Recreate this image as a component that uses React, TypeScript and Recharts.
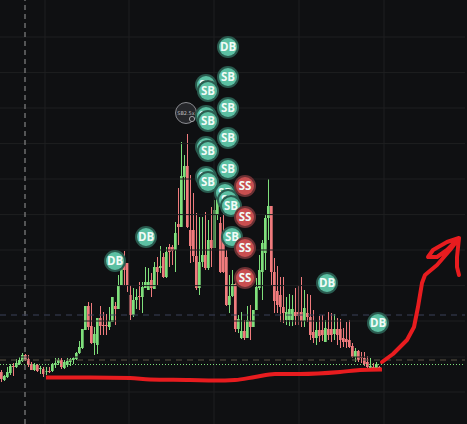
import React from "react";
import { ComposedChart, Bar, Cell, Line, Scatter, XAxis, YAxis, ReferenceLine } from "recharts";

const WIDTH = 467;
const HEIGHT = 424;
const SLOTS = 155;
const PLOT_WIDTH = 465;

const opens = [52,44,47,51,58,57,60,63,69,65,60,54,59,55,55,52,53,53,59,61,64,56,59,62,64,65,71,76,94,118,98,81,79,106,99,99,97,102,118,115,139,161,161,129,109,124,128,127,136,134,144,135,157,156,167,147,177,177,174,200,197,247,258,194,194,168,136,162,169,156,184,176,209,201,184,167,119,128,140,95,86,93,86,103,97,114,136,152,171,206,218,152,133,129,117,104,104,104,112,112,112,103,111,107,92,86,94,94,82,95,95,90,95,95,86,85,84,78,67,73,67,66,62,56,57,56,57];
const closes = [45,48,52,58,57,61,64,69,64,59,54,59,53,56,50,53,52,60,61,64,57,62,63,65,66,71,77,95,118,97,81,90,106,98,98,98,103,127,115,139,164,154,138,109,124,127,127,137,142,142,136,157,152,158,147,172,172,173,191,197,248,258,197,178,168,136,162,169,156,184,176,214,229,152,152,119,128,140,95,105,93,86,104,97,114,137,154,181,206,218,152,123,119,117,111,112,115,115,108,108,103,116,107,89,86,94,88,89,96,89,89,95,89,84,82,82,77,67,73,64,66,60,57,58,56,60,56];
const highs = [54,49,57,60,61,65,67,71,70,69,62,61,60,58,57,57,57,61,66,66,66,64,66,66,67,72,83,95,118,122,121,97,106,118,112,110,117,127,122,149,169,173,161,139,136,135,142,142,157,156,151,162,167,178,171,177,180,179,202,236,282,269,290,249,231,211,207,207,212,204,217,224,246,207,214,174,149,154,142,109,112,104,118,119,114,146,169,184,209,245,218,166,158,147,147,127,130,129,136,139,147,134,130,129,114,102,108,109,104,112,111,110,106,105,96,102,104,81,76,74,72,72,68,66,61,62,58];
const lows = [42,43,46,49,48,56,59,62,63,57,54,53,52,50,47,49,51,52,56,59,55,55,57,58,60,64,70,75,94,94,80,69,70,89,89,89,94,102,99,115,139,139,132,104,107,115,114,111,136,134,127,135,139,151,146,146,157,159,152,179,197,224,196,161,162,134,129,157,154,154,157,176,204,151,151,118,111,127,92,91,85,84,86,84,97,114,134,124,154,184,139,111,111,102,101,99,98,98,99,99,97,97,102,84,81,79,82,83,82,84,82,84,79,76,77,76,76,66,62,62,61,58,56,56,55,55,55];

const gridXs = [45, 129, 214, 299, 384];
const gridYs = [387, 351.4, 316, 280.4, 245, 209.4, 174, 138.4, 103, 67, 32];
const crosshairX = 25;
const bluePrice = 109;
const tanPrice = 64;
const greenPrice = 59.5;

const supportX = [46, 90, 130, 150, 190, 215, 235, 255, 275, 300, 340, 360, 382];
const supportP = [46.5, 46.5, 46, 44.5, 44, 43.5, 44, 47, 50, 50, 52, 54, 54.5];
const arrowX = [382, 393, 407, 414, 418, 422, 425, 437, 450, 459, 447, 433, 428, 437, 447, 459, 457, 457, 459];
const arrowP = [62, 70, 84, 97, 117, 141, 149, 159, 174, 186, 182, 174, 167, 167, 174, 186, 167, 157, 149];

const badgeLabels = ["DB","SB","SB","SB","SB","SB","SB","SB","SB","SB","SB","SB","SB","SB","SB","SB","SB","SS","SS","SS","SS","DB","DB","DB","DB"];
const badgeX = [228,228,206,208,228,206,208,228,206,208,228,206,208,225,228,231,232,245,245,245,245,146,115,327,378];
const badgeP = [377,347,339,333,316,308,303,286,277,273,255,247,242,231,224,218,187,238,207,176,146,187,163,141,101];

const rows = Array.from({ length: SLOTS }, (_, i) => ({
  slot: i,
  wick: i < opens.length ? [lows[i], highs[i]] : null,
  body: i < opens.length ? [Math.min(opens[i], closes[i]), Math.max(opens[i], closes[i]) + (opens[i] === closes[i] ? 1 : 0)] : null,
}));
const supportData = supportX.map((x, i) => ({ x, p: supportP[i] }));
const arrowData = arrowX.map((x, i) => ({ x, p: arrowP[i] }));
const badgeData = badgeLabels.map((label, i) => ({ label, x: badgeX[i], p: badgeP[i] }));
const logoData = [{ x: 186, p: 311 }];

const GREEN = "#7fe07c";
const RED = "#f07b7d";
const colourOf = (i: number) => (closes[i] >= opens[i] ? GREEN : RED);

function Badge(props: any) {
  const { cx, cy, payload } = props;
  const sell = payload.label === "SS";
  return (
    <g>
      <circle cx={cx} cy={cy} r={11} fill={sell ? "#6b3134" : "#2a5b4f"} />
      <circle cx={cx} cy={cy} r={9} fill={sell ? "#c94f50" : "#5cc0a3"} />
      <text x={cx} y={cy + 4} textAnchor="middle" fontSize={11.5} fontWeight={700} fontFamily="'Open Sans', sans-serif" fill="#f1fbf7">
        {payload.label}
      </text>
    </g>
  );
}

function Logo(props: any) {
  const { cx, cy } = props;
  return (
    <g>
      <circle cx={cx} cy={cy} r={10.5} fill="#26272b" stroke="#8a8b90" strokeWidth={1} />
      <text x={cx} y={cy + 1.5} textAnchor="middle" fontSize={5} fontFamily="'DejaVu Sans', sans-serif" fill="#b8b8bc">SB2.5x</text>
      <circle cx={cx + 6} cy={cy + 6} r={2.6} fill="#2a2b2f" stroke="#bdbdc0" strokeWidth={0.8} />
    </g>
  );
}

export default function App() {
  return (
    <div style={{ position: "absolute", left: 0, top: 0, width: WIDTH, height: HEIGHT, background: "#0f1012", overflow: "hidden" }}>
      <ComposedChart width={WIDTH} height={HEIGHT} data={rows} margin={{ top: 0, right: WIDTH - PLOT_WIDTH, bottom: 0, left: 0 }}>
        <XAxis xAxisId="wick" dataKey="slot" type="category" hide padding={{ left: 0, right: 0 }} />
        <XAxis xAxisId="body" dataKey="slot" type="category" hide padding={{ left: 0, right: 0 }} />
        <XAxis xAxisId="num" dataKey="x" type="number" domain={[0, PLOT_WIDTH]} hide allowDataOverflow />
        <YAxis yAxisId="p" type="number" domain={[0, HEIGHT]} hide allowDataOverflow />

        {gridXs.map((x) => (
          <ReferenceLine key={`vx${x}`} xAxisId="num" yAxisId="p" x={x} stroke="#1e1f21" strokeWidth={1} />
        ))}
        {gridYs.map((y) => (
          <ReferenceLine key={`hy${y}`} xAxisId="num" yAxisId="p" y={y} stroke="#1e1f21" strokeWidth={1} />
        ))}
        <ReferenceLine xAxisId="num" yAxisId="p" x={crosshairX} stroke="#9a9a9a" strokeDasharray="5 4" />
        <ReferenceLine xAxisId="num" yAxisId="p" y={bluePrice} stroke="#3b4058" strokeDasharray="6 5" strokeWidth={1.2} />
        <ReferenceLine xAxisId="num" yAxisId="p" y={tanPrice} stroke="#5d5444" strokeDasharray="6 5" strokeWidth={1.2} />
        <ReferenceLine xAxisId="num" yAxisId="p" y={greenPrice} stroke="#7fe07c" strokeDasharray="1 2" />

        <Bar xAxisId="wick" yAxisId="p" dataKey="wick" barSize={1} isAnimationActive={false} activeBar={false}>
          {rows.map((r) => (
            <Cell key={r.slot} fill={colourOf(r.slot)} />
          ))}
        </Bar>
        <Bar xAxisId="body" yAxisId="p" dataKey="body" barSize={3} isAnimationActive={false} activeBar={false}>
          {rows.map((r) => (
            <Cell key={r.slot} fill={colourOf(r.slot)} />
          ))}
        </Bar>

        <Line xAxisId="num" yAxisId="p" data={supportData} dataKey="p" type="monotone" stroke="#e81c1f" strokeWidth={4} dot={false} activeDot={false} legendType="none" isAnimationActive={false} />
        <Line xAxisId="num" yAxisId="p" data={arrowData} dataKey="p" type="linear" stroke="#e81c1f" strokeWidth={4} strokeLinejoin="round" strokeLinecap="round" dot={false} activeDot={false} legendType="none" isAnimationActive={false} />

        <Scatter xAxisId="num" yAxisId="p" data={logoData} dataKey="p" shape={Logo} isAnimationActive={false} />
        <Scatter xAxisId="num" yAxisId="p" data={badgeData} dataKey="p" shape={Badge} isAnimationActive={false} />
      </ComposedChart>
    </div>
  );
}
